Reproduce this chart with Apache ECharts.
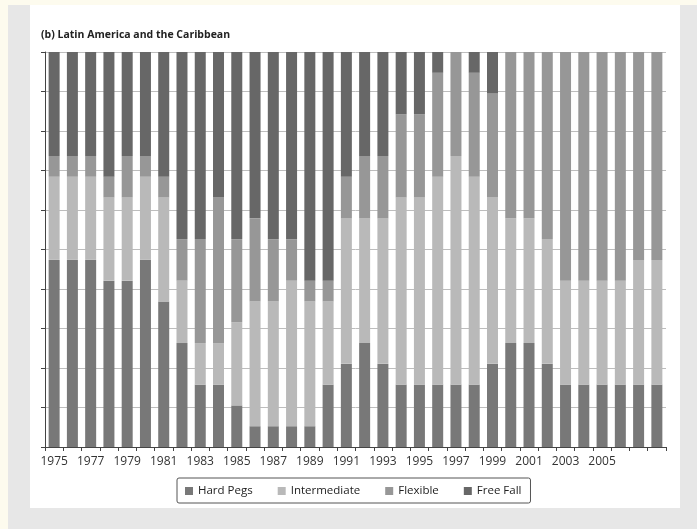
<!DOCTYPE html>
<html>
<head>
<meta charset="utf-8">
<script src="https://cdn.jsdelivr.net/npm/echarts@6/dist/echarts.min.js"></script>
<style>
  html, body { margin: 0; padding: 0; }
  body { width: 697px; height: 529px; background: #fdfbee; position: relative; overflow: hidden; }
  #frame { position: absolute; left: 8px; top: 5px; width: 689px; height: 524px; background: #e7e7e7; }
  #panel { position: absolute; left: 30px; top: 5px; width: 650px; height: 503px; background: #ffffff; }
  #chart { position: absolute; left: 0; top: 0; width: 697px; height: 529px; }
</style>
</head>
<body>
<div id="frame"></div>
<div id="panel"></div>
<div id="chart"></div>
<script>
// Years (categories)
const years = ['1975','1976','1977','1978','1979','1980','1981','1982','1983','1984','1985','1986','1987','1988','1989','1990','1991','1992','1993','1994','1995','1996','1997','1998','1999','2000','2001','2002','2003','2004','2005','2006','2007','2008'];
// Years that carry a tick label
const labeledYears = ['1975','1977','1979','1981','1983','1985','1987','1989','1991','1993','1995','1997','1999','2001','2003','2005'];
// Shares of countries (%) by regime
const hardPegs = [47.37,47.37,47.37,42.11,42.11,47.37,36.84,26.32,15.79,15.79,10.53,5.26,5.26,5.26,5.26,15.79,21.05,26.32,21.05,15.79,15.79,15.79,15.79,15.79,21.05,26.32,26.32,21.05,15.79,15.79,15.79,15.79,15.79,15.79];
const intermediate = [21.05,21.05,21.05,21.05,21.05,21.05,26.32,15.79,10.53,10.53,21.05,31.58,31.58,36.84,31.58,21.05,36.84,31.58,36.84,47.37,47.37,52.63,57.89,52.63,42.11,31.58,31.58,31.58,26.32,26.32,26.32,26.32,31.58,31.58];
const flexible = [5.26,5.26,5.26,5.26,10.53,5.26,5.26,10.53,26.32,36.84,21.05,21.05,15.79,10.53,5.26,5.26,10.53,15.79,15.79,21.05,21.05,26.32,26.32,26.32,26.32,42.11,42.11,47.37,57.89,57.89,57.89,57.89,52.63,52.63];
const freeFall = [26.32,26.32,26.32,31.58,26.32,26.32,31.58,47.37,47.37,36.84,47.37,42.11,47.37,47.37,57.89,57.89,31.58,26.32,26.32,15.79,15.79,5.26,0,5.26,10.53,0,0,0,0,0,0,0,0,0];
const seriesNames = ['Hard Pegs','Intermediate','Flexible','Free Fall'];
const seriesColors = ['#787878','#b9b9b9','#979797','#676767'];
const seriesData = [hardPegs, intermediate, flexible, freeFall];

const chart = echarts.init(document.getElementById('chart'), null, { renderer: 'canvas' });
const font = "'Open Sans', 'DejaVu Sans', sans-serif";
chart.setOption({
  backgroundColor: 'transparent',
  animation: false,
  title: {
    text: '(b) Latin America and the Caribbean',
    left: 36, top: 25,
    textStyle: { fontFamily: font, fontSize: 10.5, fontWeight: 'bold', color: '#222' }
  },
  legend: {
    data: seriesNames,
    left: 177, top: 478,
    itemWidth: 8, itemHeight: 8, itemGap: 25,
    icon: 'rect',
    padding: [7, 9, 6, 8],
    borderColor: '#555', borderWidth: 1, borderRadius: 2,
    textStyle: { fontFamily: font, fontSize: 11.5, color: '#222' }
  },
  grid: { left: 45, right: 31, top: 52, bottom: 82, containLabel: false },
  xAxis: {
    type: 'category',
    data: years,
    boundaryGap: true,
    axisLine: { lineStyle: { color: '#444', width: 1 } },
    axisTick: { show: true, interval: 0, length: 4, lineStyle: { color: '#444' } },
    axisLabel: {
      interval: 0, margin: 9,
      fontFamily: font, fontSize: 12, color: '#333',
      formatter: v => labeledYears.includes(v) ? v : ''
    },
    splitLine: { show: false }
  },
  yAxis: {
    type: 'value', min: 0, max: 100, interval: 10,
    axisLine: { show: true, lineStyle: { color: '#444', width: 1 } },
    axisTick: { show: true, length: 4, lineStyle: { color: '#444' } },
    axisLabel: { show: false },
    splitLine: { show: true, lineStyle: { color: '#bdbdbd', width: 1 } }
  },
  series: seriesNames.map((name, i) => ({
    name,
    type: 'bar',
    stack: 'total',
    barWidth: 11,
    itemStyle: { color: seriesColors[i] },
    data: seriesData[i]
  }))
});
</script>
</body>
</html>
